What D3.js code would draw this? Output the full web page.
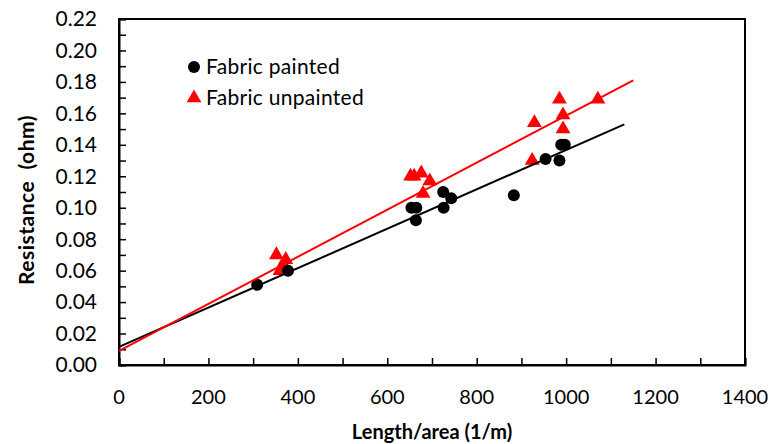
<!DOCTYPE html>
<html>
<head>
<meta charset="utf-8">
<script src="https://cdn.jsdelivr.net/npm/d3@7"></script>
<style>
  html, body { margin: 0; padding: 0; background: #fff; }
  svg { display: block; font-family: Lato, "Open Sans", sans-serif; }
</style>
</head>
<body>
<svg id="chart" width="771" height="444"></svg>
<script>
// Resistance vs. length/area for painted and unpainted fabric samples
const paintedX = [309, 378, 654, 665, 664, 725, 726, 743, 883, 954, 985, 989, 997];
const paintedY = [0.051, 0.060, 0.100, 0.100, 0.092, 0.110, 0.100, 0.106, 0.108, 0.131, 0.130, 0.140, 0.140];

const unpaintedX = [352, 360, 367, 373, 652, 660, 676, 695, 680, 924, 929, 985, 993, 993, 1071];
const unpaintedY = [0.070, 0.060, 0.064, 0.067, 0.120, 0.120, 0.122, 0.117, 0.109, 0.130, 0.154, 0.169, 0.159, 0.150, 0.169];

// Linear trendline end points (x in 1/m, y in ohm)
const paintedFitX = [0, 1130];
const paintedFitY = [0.0115, 0.153];
const unpaintedFitX = [0, 1150];
const unpaintedFitY = [0.0090, 0.181];

const xTickValues = [0, 200, 400, 600, 800, 1000, 1200, 1400];
const yTickValues = [0, 0.02, 0.04, 0.06, 0.08, 0.10, 0.12, 0.14, 0.16, 0.18, 0.20, 0.22];

const seriesNames = ["Fabric painted", "Fabric unpainted"];

const svg = d3.select("#chart");
const margin = { left: 119, right: 771 - 745, top: 19, bottom: 444 - 365 };
const W = 771, H = 444;

const x = d3.scaleLinear().domain([0, 1400]).range([margin.left, W - margin.right]);
const y = d3.scaleLinear().domain([0, 0.22]).range([H - margin.bottom, margin.top]);

const tickLen = 7;

// Plot frame
svg.append("rect")
  .attr("x", x(0)).attr("y", y(0.22))
  .attr("width", x(1400) - x(0)).attr("height", y(0) - y(0.22))
  .attr("fill", "none").attr("stroke", "#000").attr("stroke-width", 2);

// Y axis: inward ticks every 0.01, labels every 0.02
const yAxis = d3.axisRight(y)
  .tickValues(d3.range(0, 0.2201, 0.01))
  .tickSize(tickLen)
  .tickFormat("");
const gy = svg.append("g").attr("transform", `translate(${x(0)},0)`).call(yAxis);
gy.select(".domain").attr("stroke", "#000").attr("stroke-width", 2);
gy.selectAll(".tick line").attr("stroke", "#000").attr("stroke-width", 1.5);

svg.append("g").selectAll("text")
  .data(yTickValues).join("text")
  .attr("x", 97).attr("y", d => y(d))
  .attr("dy", "0.35em")
  .attr("text-anchor", "end")
  .attr("font-size", 21)
  .attr("fill", "#000")
  .text(d => d3.format(".2f")(d));

// X axis: inward ticks every 100, labels every 200
const xAxis = d3.axisTop(x)
  .tickValues(d3.range(0, 1401, 100))
  .tickSize(tickLen)
  .tickFormat("");
const gx = svg.append("g").attr("transform", `translate(0,${y(0)})`).call(xAxis);
gx.select(".domain").attr("stroke", "#000").attr("stroke-width", 2);
gx.selectAll(".tick line").attr("stroke", "#000").attr("stroke-width", 1.5);

svg.append("g").selectAll("text")
  .data(xTickValues).join("text")
  .attr("x", d => x(d)).attr("y", 397)
  .attr("dy", "0.35em")
  .attr("text-anchor", "middle")
  .attr("font-size", 20)
  .attr("fill", "#000")
  .text(d => d);

// Axis titles
svg.append("text")
  .attr("x", (x(0) + x(1400)) / 2).attr("y", 432)
  .attr("dy", "0.35em")
  .attr("text-anchor", "middle")
  .attr("font-size", 20).attr("font-weight", "bold")
  .text("Length/area (1/m)");

svg.append("text")
  .attr("transform", `translate(27,${(y(0) + y(0.22)) / 2 + 8}) rotate(-90)`)
  .attr("dy", "0.35em")
  .attr("text-anchor", "middle")
  .attr("font-size", 21).attr("font-weight", "bold")
  .attr("letter-spacing", 0.5)
  .text("Resistance\u00a0\u00a0(ohm)");

const tri = d3.symbol().type(d3.symbolTriangle).size(95);

// Unpainted markers
svg.append("g").selectAll("path")
  .data(unpaintedX.map((v, i) => [v, unpaintedY[i]]))
  .join("path")
  .attr("d", tri)
  .attr("transform", d => `translate(${x(d[0])},${y(d[1])})`)
  .attr("fill", "#ff0000");

// Painted markers
svg.append("g").selectAll("circle")
  .data(paintedX.map((v, i) => [v, paintedY[i]]))
  .join("circle")
  .attr("cx", d => x(d[0])).attr("cy", d => y(d[1]))
  .attr("r", 6)
  .attr("fill", "#000");

// Trendlines
const line = d3.line().x(d => x(d[0])).y(d => y(d[1]));
svg.append("path")
  .datum(paintedFitX.map((v, i) => [v, paintedFitY[i]]))
  .attr("d", line).attr("fill", "none").attr("stroke", "#000").attr("stroke-width", 2);
svg.append("path")
  .datum(unpaintedFitX.map((v, i) => [v, unpaintedFitY[i]]))
  .attr("d", line).attr("fill", "none").attr("stroke", "#ff0000").attr("stroke-width", 2);

// Legend
const legend = svg.append("g");
legend.append("circle").attr("cx", 194).attr("cy", 67).attr("r", 6).attr("fill", "#000");
legend.append("path").attr("d", tri).attr("transform", "translate(194,98)").attr("fill", "#ff0000");
legend.selectAll("text")
  .data(seriesNames).join("text")
  .attr("x", 206).attr("y", (d, i) => 67 + i * 31)
  .attr("dy", "0.35em")
  .attr("font-size", 21)
  .attr("letter-spacing", 0.3)
  .attr("fill", "#000")
  .text(d => d);
</script>
</body>
</html>
